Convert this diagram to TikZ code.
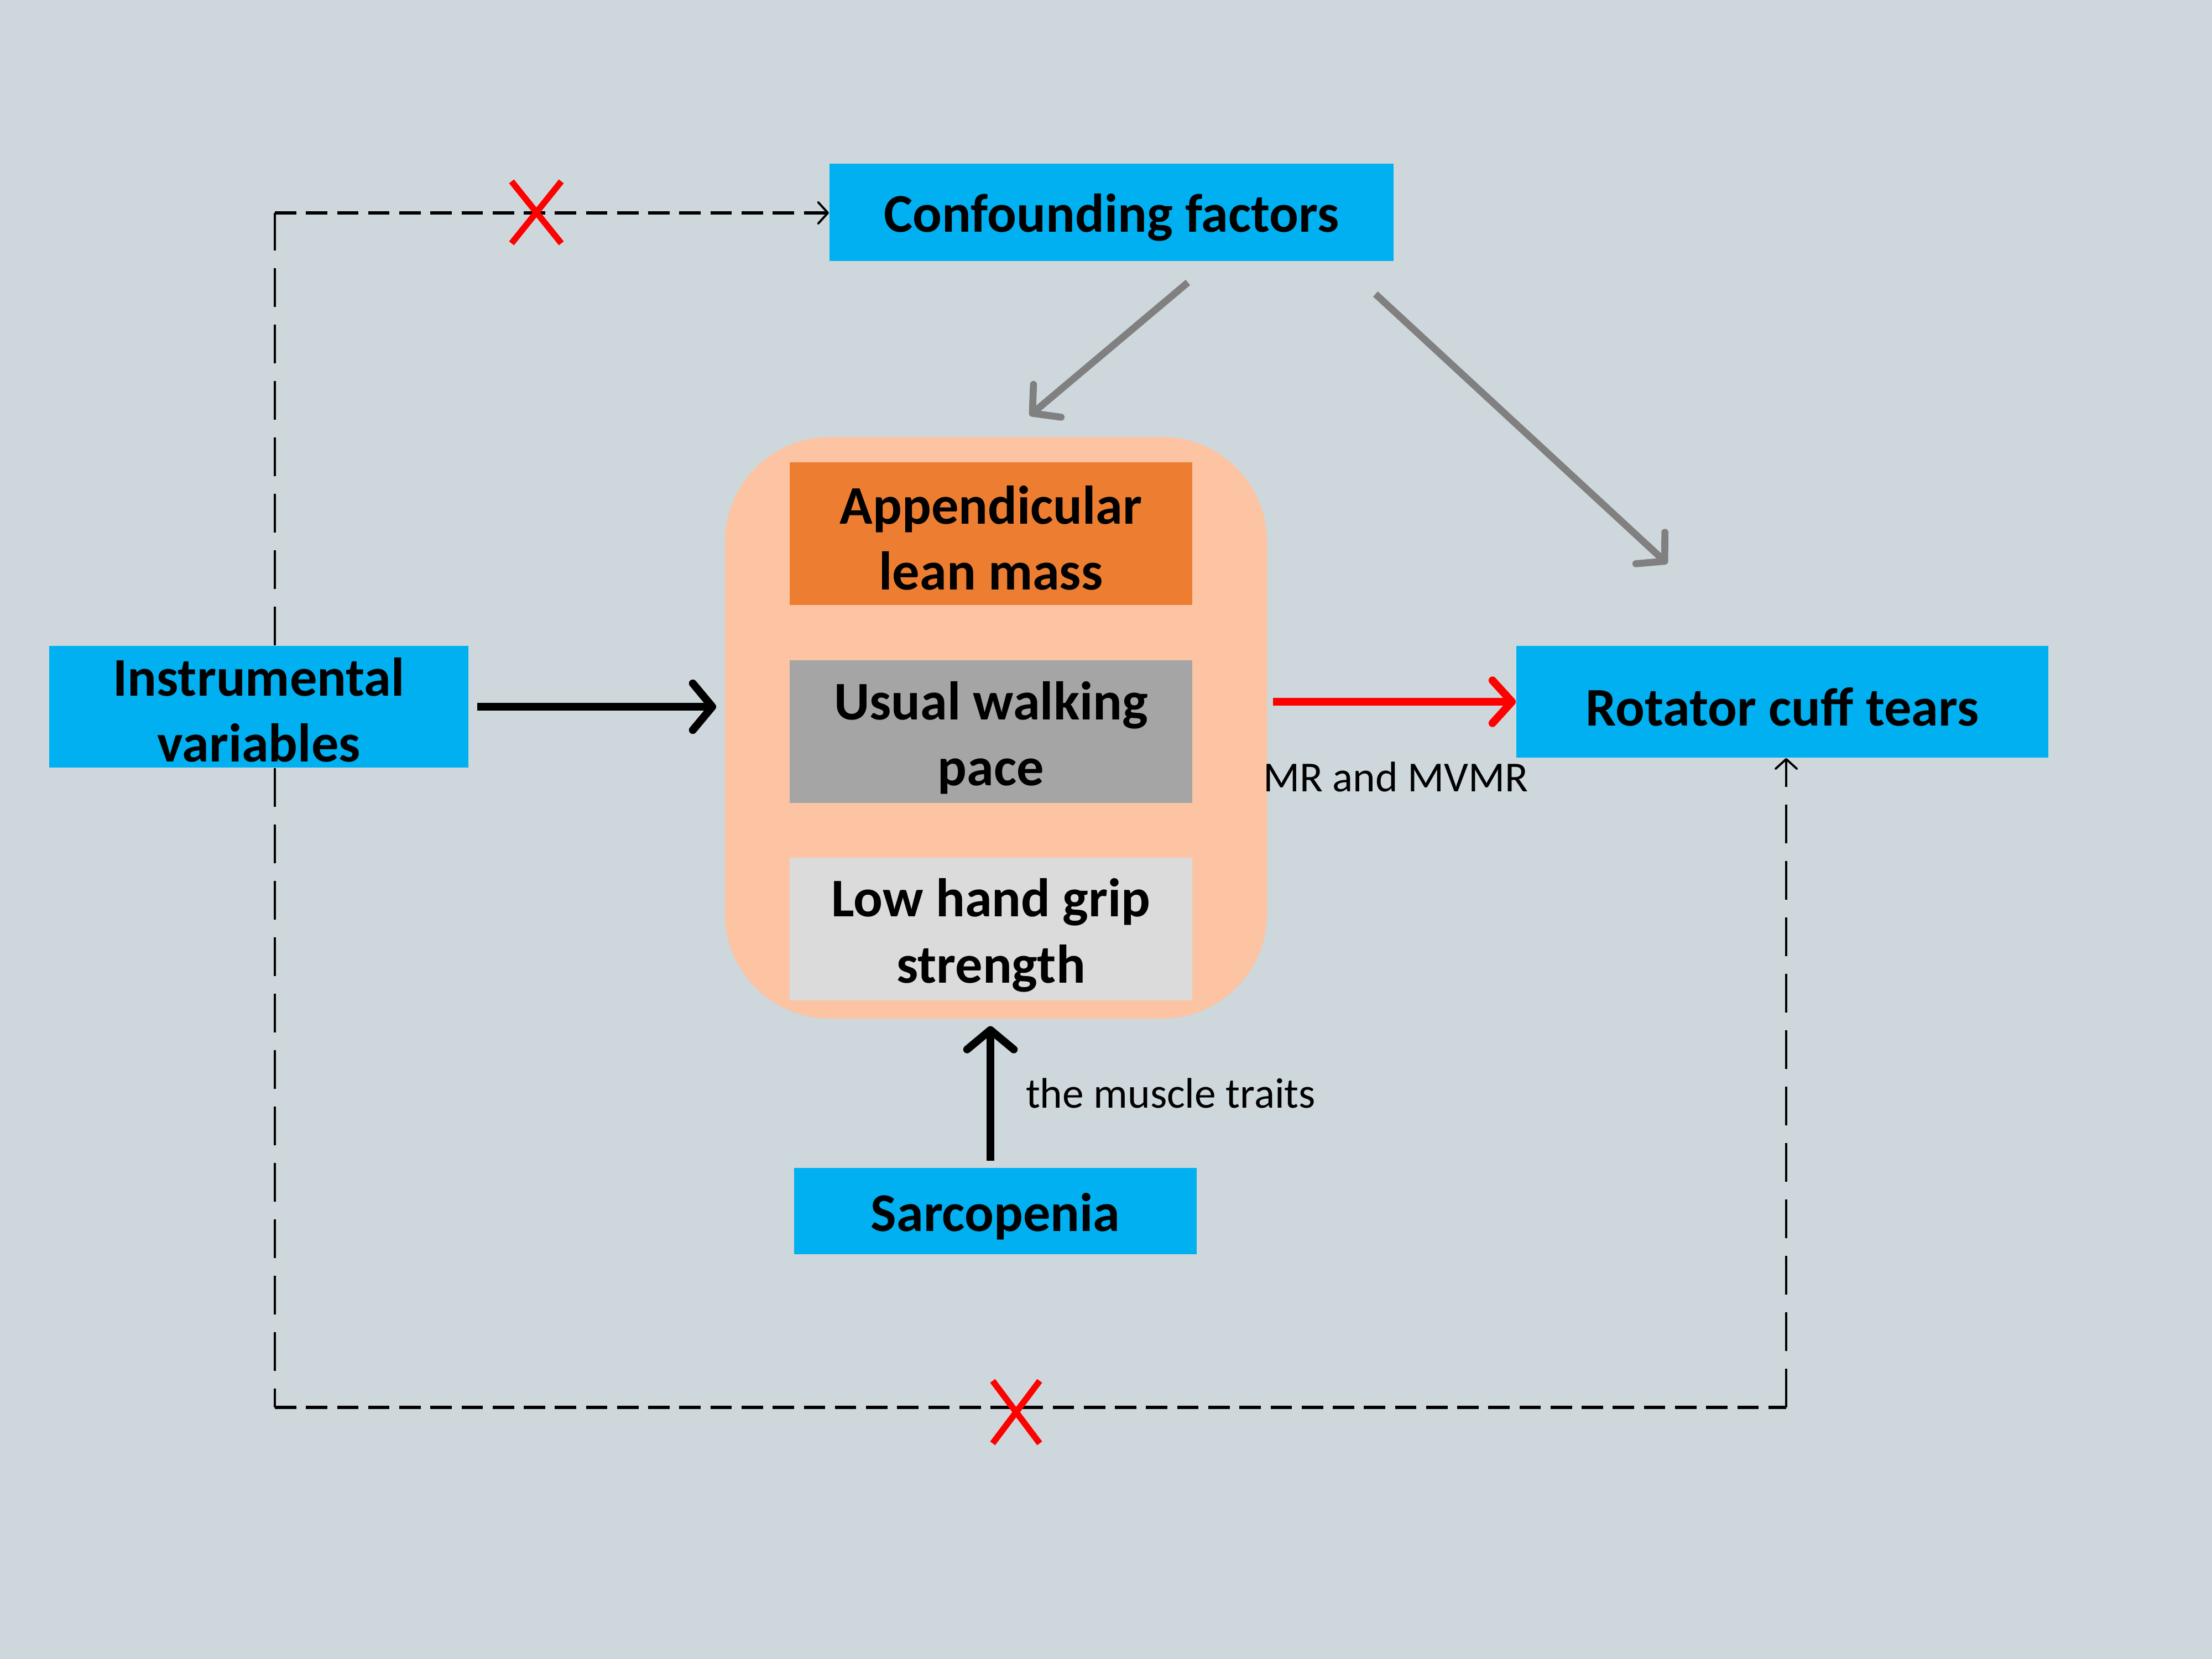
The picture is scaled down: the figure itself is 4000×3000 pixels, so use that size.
\documentclass[tikz,border=0pt]{standalone}
\usepackage{fontspec}
\setmainfont{Carlito}
\usetikzlibrary{arrows.meta,calc,backgrounds}
\definecolor{bgc}{HTML}{CED7DB}
\definecolor{boxblue}{HTML}{00B0F0}
\definecolor{peach}{HTML}{FCC4A3}
\definecolor{orng}{HTML}{ED7D31}
\definecolor{midgrey}{HTML}{A5A5A5}
\definecolor{lightgrey}{HTML}{DBDBDB}
\definecolor{arrgrey}{HTML}{808080}
\pgfdeclarelayer{canvas}
\pgfsetlayers{canvas,background,main}
\newcommand{\topstrut}[1]{\rule{0pt}{#1}}
\tikzset{
  boxfont/.style={font=\bfseries\fontsize{28}{34}\selectfont},
  bluebox/.style={fill=boxblue, draw=none, inner sep=0pt, align=center, boxfont},
  innerbox/.style={draw=none, inner sep=0pt, align=center, minimum width=7.27cm, minimum height=2.57cm, boxfont},
  lbl/.style={inner sep=0pt, font=\fontsize{22}{26}\selectfont},
  blkarrow/.style={line width=4pt, draw=black, -{Straight Barb[length=10pt,width=24pt,round]}},
  redarrow/.style={line width=4pt, draw=red, -{Straight Barb[length=10pt,width=22pt,round]}},
  greyarrow/.style={line width=3.6pt, draw=arrgrey, -{Straight Barb[length=10pt,width=22pt,round]}},
  dashh/.style={line width=1.8pt, dash pattern=on 11pt off 5pt},
  dashv/.style={line width=1.1pt, dash pattern=on 20pt off 9pt},
  dtip/.style={-{Straight Barb[length=5pt,width=11pt,round,line width=1.1pt]}},
  crossx/.style={line width=3.2pt, draw=red},
}
\begin{document}
\begin{tikzpicture}[x=0.01cm,y=-0.01cm]
\useasboundingbox (0,0) rectangle (4000,3000);
\begin{pgfonlayer}{canvas}
\fill[bgc] (0,0) rectangle (4000,3000);
\end{pgfonlayer}

% nodes
\node[bluebox, minimum width=10.2cm, minimum height=1.76cm] (conf) at (2010,384) {\topstrut{25pt}Confounding factors};
\node[bluebox, minimum width=7.58cm, minimum height=2.2cm] (iv) at (468,1278) {\topstrut{23pt}Instrumental\\variables};
\node[bluebox, minimum width=9.62cm, minimum height=2.02cm] (rct) at (3223,1269) {\topstrut{25pt}Rotator cuff tears};
\node[fill=peach, draw=none, rounded corners=1.9cm, minimum width=9.8cm, minimum height=10.51cm, inner sep=0pt] (cont) at (1801,1316) {};
\node[innerbox, fill=orng] (alm) at (1792,965) {\topstrut{24pt}Appendicular\\lean mass};
\node[innerbox, fill=midgrey] (uwp) at (1792,1323) {\topstrut{26pt}Usual walking\\pace};
\node[innerbox, fill=lightgrey] (lhg) at (1792,1680) {\topstrut{26pt}Low hand grip\\strength};
\node[bluebox, minimum width=7.27cm, minimum height=1.56cm] (sarc) at (1800,2190) {\topstrut{25pt}Sarcopenia};
\node[lbl] (mr) at (2524,1405) {MR and MVMR};
\node[lbl] (mt) at (2117,1977) {the muscle traits};

% dashed paths (behind boxes)
\coordinate (tl) at (497,385);
\coordinate (bl) at (497,2545);
\coordinate (br) at (3230,2545);
\begin{scope}[on background layer]
\draw[dashv] (iv.north -| tl) -- (tl);
\draw[dashv] (iv.south -| bl) -- (bl);
\end{scope}
\draw[dashh] (tl) -- (conf.west |- tl);
\draw[dtip, line width=1.1pt] ([xshift=-0.3cm]conf.west |- tl) -- (conf.west |- tl);
\draw[dashh] (bl) -- (br);
\draw[dashv, dtip] (br) -- (rct.south -| br);

% solid arrows
\draw[blkarrow, shorten <=0.15cm, shorten >=0.15cm] (iv.east) -- (iv.east -| cont.west);
\draw[redarrow, shorten <=0.1cm] (cont.east |- rct.west) -- (rct.west);
\draw[blkarrow, shorten <=0.12cm, shorten >=0.13cm] (sarc.north -| 1791,0) -- (cont.south -| 1791,0);
\draw[greyarrow] ([xshift=1.38cm,yshift=-0.38cm]conf.south) -- ([xshift=0.61cm,yshift=0.38cm]cont.north);
\draw[greyarrow] ([xshift=4.77cm,yshift=-0.59cm]conf.south) -- ([xshift=-2.08cm,yshift=1.48cm]rct.north);

% red crosses
\draw[crossx] (925,328) -- (1015,440);
\draw[crossx] (1015,328) -- (925,440);
\draw[crossx] (1795,2497) -- (1880,2610);
\draw[crossx] (1880,2497) -- (1795,2610);
\end{tikzpicture}
\end{document}
